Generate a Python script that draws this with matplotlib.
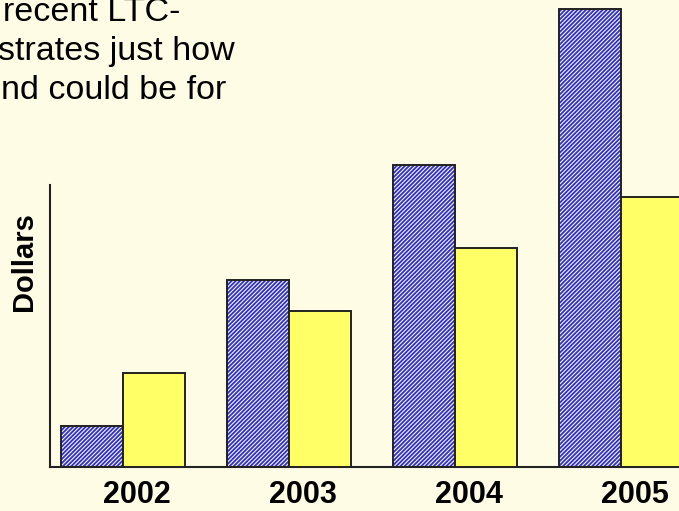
import numpy as np
import matplotlib
matplotlib.use('Agg')
import matplotlib.pyplot as plt

# Data (arbitrary dollar units, no y ticks shown)
years = ['2002', '2003', '2004', '2005']
blue_vals = [41, 187, 302, 458]
yellow_vals = [94, 156, 219, 270]
y_top = 282  # where the y axis line ends

caption_lines = ['recent LTC-', 'strates just how', 'nd could be for']

plt.rcParams['font.family'] = ['Liberation Sans', 'DejaVu Sans']
plt.rcParams['hatch.linewidth'] = 1.3

bg = '#FFFCE6'
fig = plt.figure(figsize=(6.79, 5.11), dpi=100, facecolor=bg)

W, H = 679, 511
ax = fig.add_axes([50 / W, 44 / H, 670 / W, 282 / H])
ax.set_facecolor('none')

x = np.arange(len(years))
w = 62 / 166

# blue bars: hatched layer then black outline
ax.bar(x - w / 2, blue_vals, w, color='#F4F4FF', edgecolor='#3030C4', hatch='////////',
       linewidth=0, clip_on=False, zorder=2)
ax.bar(x - w / 2, blue_vals, w, fill=False, edgecolor='#222222', linewidth=1.4,
       clip_on=False, zorder=3)
ax.bar(x + w / 2, yellow_vals, w, color='#FFFF66', edgecolor='#222222', linewidth=1.4,
       clip_on=False, zorder=3)

ax.set_xlim(-73 / 166, -73 / 166 + 670 / 166)
ax.set_ylim(0, y_top)

for s in ['top', 'right']:
    ax.spines[s].set_visible(False)
for s in ['left', 'bottom']:
    ax.spines[s].set_linewidth(1.5)
    ax.spines[s].set_color('#222222')

ax.set_yticks([])
ax.set_xticks(x + 0.085)
ax.set_xticklabels(years, fontsize=22, fontweight='bold')
ax.tick_params(axis='x', length=0, pad=9)

fig.text(24 / W, 1 - 262 / H, 'Dollars', rotation=90, fontsize=21, fontweight='bold',
         ha='center', va='center')

# caption text cut off by the crop
xs = [3, -2, 1]
ys = [21, 60, 99]
for t, px, py in zip(caption_lines, xs, ys):
    fig.text(px / W, 1 - py / H, t, fontsize=24.5, ha='left', va='baseline')

fig.savefig('out.png', dpi=100, facecolor=bg)
